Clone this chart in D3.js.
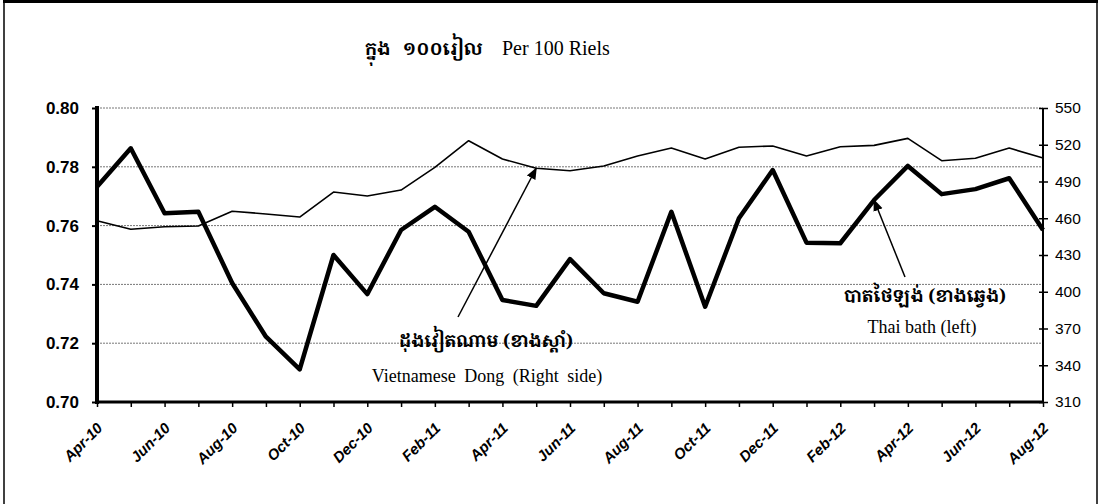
<!DOCTYPE html>
<html>
<head>
<meta charset="utf-8">
<title>Riel exchange</title>
<style>
  body{margin:0;background:#fff;}
  svg{display:block;}
</style>
</head>
<body>
<div id="chart"></div>
<script src="https://d3js.org/d3.v7.min.js"></script>
<script type="text/javascript">

// monthly, Apr-10 .. Aug-12
var months = ["Apr-10","May-10","Jun-10","Jul-10","Aug-10","Sep-10","Oct-10","Nov-10","Dec-10",
  "Jan-11","Feb-11","Mar-11","Apr-11","May-11","Jun-11","Jul-11","Aug-11","Sep-11","Oct-11","Nov-11","Dec-11",
  "Jan-12","Feb-12","Mar-12","Apr-12","May-12","Jun-12","Jul-12","Aug-12"];

var thaiBaht = [0.7732,0.7863,0.7642,0.7647,0.7405,0.7222,0.7111,0.7500,0.7367,
  0.7585,0.7664,0.7579,0.7347,0.7327,0.7486,0.7370,0.7341,0.7647,0.7324,0.7625,0.7789,
  0.7542,0.7540,0.7687,0.7803,0.7707,0.7724,0.7761,0.7585];

var vnDong = [458,451,453,453.7,465.7,463.5,461,481.4,478.2,
  483,501.6,523.3,508.4,500.8,498.8,502.7,510.8,517.3,508.4,517.9,519,
  510.8,518.4,519.5,525.2,507,509,517.3,509.2];

var leftTicks = [0.70,0.72,0.74,0.76,0.78,0.80];
var rightTicks = [310,340,370,400,430,460,490,520,550];

var W = 1101, H = 504,
    x0 = 97, x1 = 1043, yTop = 108, yBot = 402;

var sans = '"Liberation Sans", Arial, sans-serif',
    serif = '"Liberation Serif", "Times New Roman", serif',
    khmer = '"Noto Serif Khmer", "Noto Sans Khmer", "Khmer OS", serif';

var svg = d3.select('#chart').append('svg').attr('width',W).attr('height',H);

// frame
svg.append('line').attr('x1',3).attr('x2',1098).attr('y1',1.5).attr('y2',1.5).attr('stroke','#000').attr('stroke-width',3);
svg.append('line').attr('x1',4).attr('x2',4).attr('y1',0).attr('y2',H).attr('stroke','#000').attr('stroke-width',1.5);
svg.append('line').attr('x1',1097).attr('x2',1097).attr('y1',0).attr('y2',H).attr('stroke','#000').attr('stroke-width',1.5);

var x = d3.scalePoint().domain(months).range([x0,x1]),
    yL = d3.scaleLinear().domain([0.70,0.80]).range([yBot,yTop]),
    yR = d3.scaleLinear().domain([310,550]).range([yBot,yTop]);

// grid
svg.append('g').selectAll('line').data(leftTicks.slice(1)).join('line')
  .attr('x1',x0).attr('x2',x1)
  .attr('y1',function(d){return yL(d);}).attr('y2',function(d){return yL(d);})
  .attr('stroke','#777').attr('stroke-width',1).attr('stroke-dasharray','2,1');

// left axis
var gl = svg.append('g').attr('transform','translate('+x0+',0)')
  .call(d3.axisLeft(yL).tickValues(leftTicks).tickFormat(d3.format('.2f')).tickSize(5).tickPadding(13));
gl.select('.domain').attr('stroke-width',4).attr('d','M0,'+(yTop-2)+'V'+(yBot+2));
gl.selectAll('.tick line').attr('stroke-width',2);
gl.selectAll('text').style('font-family',sans)
  .style('font-size','17px').style('font-weight','bold').attr('fill','#000');

// right axis
var gr = svg.append('g').attr('transform','translate('+x1+',0)')
  .call(d3.axisRight(yR).tickValues(rightTicks).tickSize(5).tickPadding(7));
gr.select('.domain').attr('stroke-width',2).attr('d','M0,'+yTop+'V'+yBot);
gr.selectAll('.tick line').attr('x1',-4).attr('stroke-width',1.5);
gr.selectAll('text').style('font-family',sans)
  .style('font-size','15.5px').attr('fill','#000');

// bottom axis
var gb = svg.append('g').attr('transform','translate(0,'+yBot+')')
  .call(d3.axisBottom(x).tickSize(5).tickFormat(function(d,i){return i%2==0 ? d : '';}));
gb.select('.domain').attr('stroke-width',3).attr('d','M'+x0+',0H'+x1);
gb.selectAll('.tick line').attr('stroke-width',1.5);
gb.selectAll('text')
  .style('font-family',sans)
  .style('font-size','15px').style('font-weight','bold').style('font-style','italic')
  .attr('fill','#000')
  .attr('text-anchor','end')
  .attr('dy',0).attr('y',0)
  .attr('transform','translate(6,27) rotate(-45)');

// lines
var lineVnd = d3.line().x(function(d,i){return x(months[i]);}).y(function(d){return yR(d);});
var lineThb = d3.line().x(function(d,i){return x(months[i]);}).y(function(d){return yL(d);});

svg.append('path').datum(vnDong).attr('d',lineVnd)
  .attr('fill','none').attr('stroke','#000').attr('stroke-width',1.6).attr('stroke-linejoin','round');
svg.append('path').datum(thaiBaht).attr('d',lineThb)
  .attr('fill','none').attr('stroke','#000').attr('stroke-width',4.5).attr('stroke-linejoin','round');

// title
var title = svg.append('text').attr('y',55);
title.append('tspan').text('ក្នុង').attr('x',365)
  .style('font-family',khmer).style('font-size','18px').style('font-weight','bold');
title.append('tspan').text('១០០រៀល').attr('x',403)
  .style('font-family',khmer).style('font-size','18px').style('font-weight','bold');
title.append('tspan').text('Per 100 Riels').attr('x',502)
  .style('font-family',serif).style('font-size','20px');

// arrows
svg.append('defs').append('marker').attr('id','ah').attr('viewBox','0 0 10 10')
  .attr('refX',9).attr('refY',5).attr('markerWidth',8).attr('markerHeight',8).attr('orient','auto')
  .append('path').attr('d','M0,1L10,5L0,9z').attr('fill','#000');

function arrow(fx,fy,ti,sc,val){
  var tx = x(months[ti]), ty = sc(val);
  svg.append('line').attr('x1',fx).attr('y1',fy).attr('x2',tx).attr('y2',ty)
    .attr('stroke','#000').attr('stroke-width',1.5).attr('marker-end','url(#ah)');
}
arrow(458,317,months.indexOf('May-11'),yR,vnDong[13]);
arrow(905,277,months.indexOf('Mar-12'),yL,thaiBaht[23]);

// labels
svg.append('text').attr('x',486).attr('y',347).attr('text-anchor','middle')
  .style('font-family',khmer).style('font-size','17.5px').style('font-weight','bold')
  .text('ដុងវៀតណាម (ខាងស្តាំ)');
svg.append('text').attr('x',487).attr('y',382).attr('text-anchor','middle')
  .style('font-family',serif).style('font-size','18px').style('word-spacing','4px')
  .text('Vietnamese Dong (Right side)');
svg.append('text').attr('x',925).attr('y',302).attr('text-anchor','middle')
  .style('font-family',khmer).style('font-size','17.5px').style('font-weight','bold')
  .text('បាតថៃឡង់ (ខាងឆ្វេង)');
svg.append('text').attr('x',922).attr('y',333).attr('text-anchor','middle')
  .style('font-family',serif).style('font-size','18px')
  .text('Thai bath (left)');

</script>
</body>
</html>
